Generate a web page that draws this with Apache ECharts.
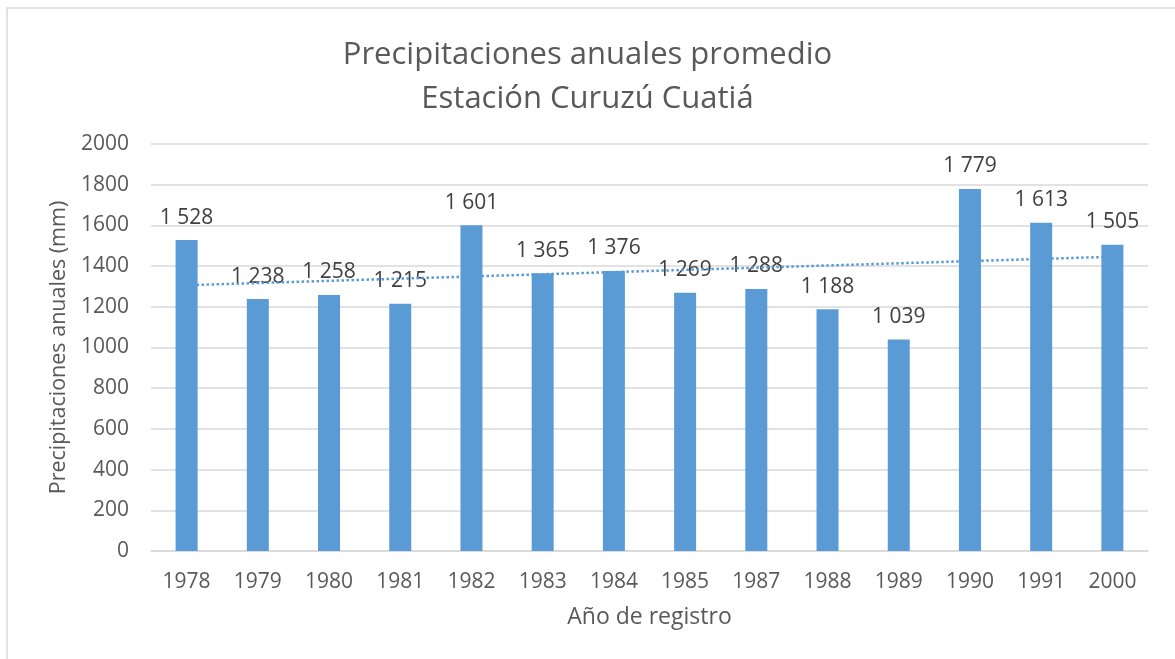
<!DOCTYPE html>
<html>
<head>
<meta charset="utf-8">
<script src="https://cdn.jsdelivr.net/npm/echarts@6/dist/echarts.min.js"></script>
<style>
  html, body { margin: 0; padding: 0; background: #fff; }
  #chart { width: 1175px; height: 659px; }
</style>
</head>
<body>
<div id="chart"></div>
<script>
// años y precipitaciones
var years = ["1978", "1979", "1980", "1981", "1982", "1983", "1984", "1985", "1987", "1988", "1989", "1990", "1991", "2000"];
var rainfall = [1528, 1238, 1258, 1215, 1601, 1365, 1376, 1269, 1288, 1188, 1039, 1779, 1613, 1505];
// línea de tendencia: solo extremos
var trend = [1306, null, null, null, null, null, null, null, null, null, null, null, null, 1446];

var textColor = "#595959";
var fontName = "Open Sans";

var chart = echarts.init(document.getElementById("chart"));
var option = {
  backgroundColor: "#fff",
  animation: false,
  textStyle: { fontFamily: fontName },
  title: {
    text: "Precipitaciones anuales promedio\nEstación Curuzú Cuatiá",
    left: "center",
    top: 28,
    textStyle: {
      color: textColor,
      fontSize: 31,
      fontWeight: "normal",
      lineHeight: 44,
      fontFamily: fontName
    }
  },
  graphic: [{
    type: "rect",
    shape: { x: 7, y: 8, width: 1200, height: 700 },
    style: { fill: "none", stroke: "#d9d9d9", lineWidth: 1.5 },
    silent: true
  }],
  grid: {
    left: 151,
    right: 27,
    top: 144,
    bottom: 108
  },
  xAxis: {
    type: "category",
    data: years,
    name: "Año de registro",
    nameLocation: "middle",
    nameGap: 55,
    nameTextStyle: { color: textColor, fontSize: 23 },
    axisLine: { lineStyle: { color: "#d9d9d9", width: 1.5 } },
    axisTick: { show: false },
    axisLabel: { color: textColor, fontSize: 21, margin: 21 }
  },
  yAxis: {
    type: "value",
    min: 0,
    max: 2000,
    interval: 200,
    name: "Precipitaciones anuales (mm)",
    nameLocation: "middle",
    nameRotate: 90,
    nameGap: 78,
    nameTextStyle: { color: textColor, fontSize: 21.5 },
    axisLine: { show: false },
    axisTick: { show: false },
    axisLabel: {
      color: textColor,
      fontSize: 21,
      margin: 22,
      formatter: function (v) { return String(v); }
    },
    splitLine: { lineStyle: { color: "#d9d9d9", width: 1.5 } }
  },
  series: [
    {
      name: "Tendencia",
      type: "line",
      data: trend,
      connectNulls: true,
      symbol: "none",
      silent: true,
      lineStyle: { color: "#5b9bd5", width: 2.5, type: "dotted" }
    },
    {
      name: "Precipitación",
      type: "bar",
      data: rainfall,
      barWidth: 22,
      itemStyle: { color: "#5b9bd5" },
      label: {
        show: true,
        position: "top",
        distance: 12,
        color: "#404040",
        fontSize: 21,
        formatter: function (p) {
          var s = String(p.value);
          return s.length > 3 ? s.slice(0, s.length - 3) + " " + s.slice(-3) : s;
        }
      }
    }
  ]
};
chart.setOption(option);
</script>
</body>
</html>
